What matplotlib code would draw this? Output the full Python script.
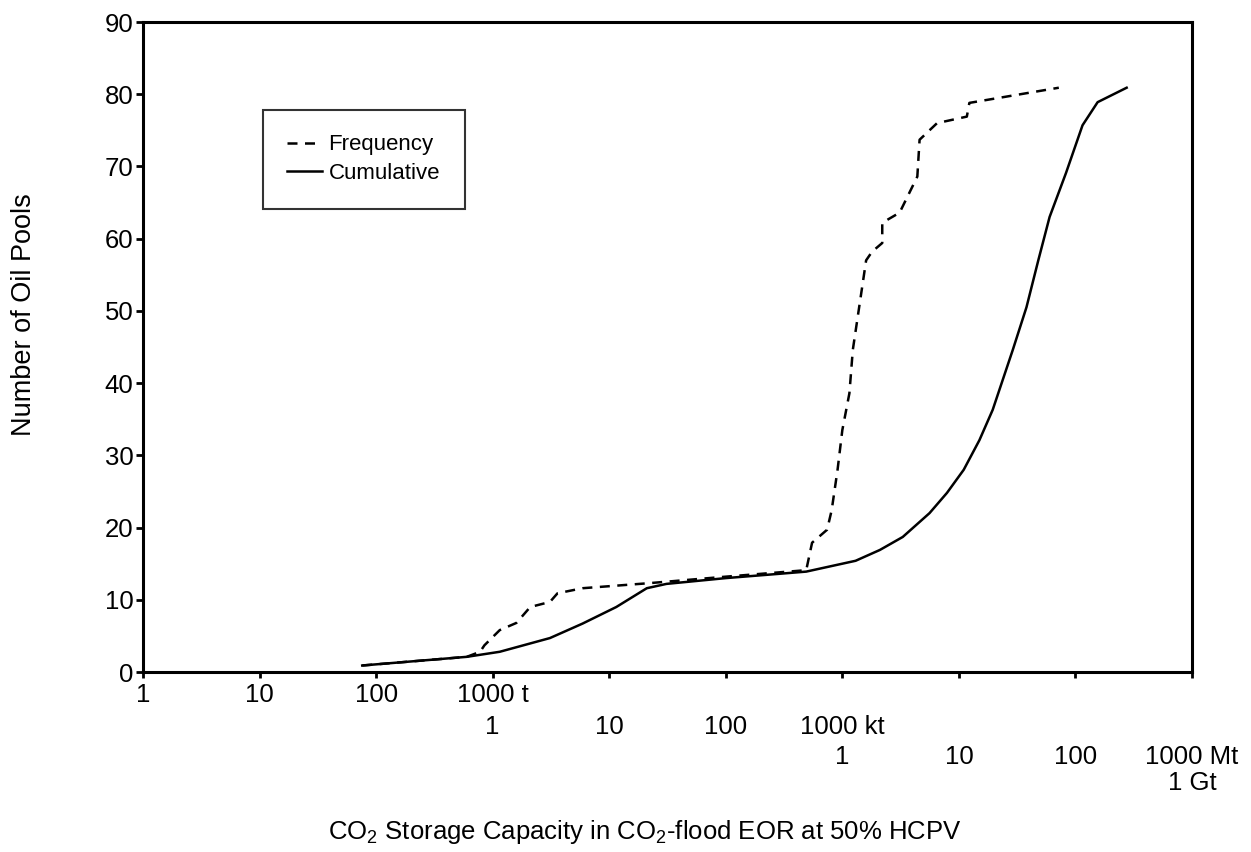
import matplotlib
matplotlib.use("Agg")
import matplotlib.pyplot as plt
import numpy as np

plt.rcParams['font.family'] = ['Liberation Sans', 'DejaVu Sans']
plt.rcParams['mathtext.fontset'] = 'custom'
plt.rcParams['mathtext.rm'] = 'Liberation Sans'

# storage capacity (tonnes CO2) vs number of oil pools
freq_capacity = [76, 600, 780, 850, 1150, 1600, 2100, 3100, 3600, 5900, 22000, 1e5,
                 4.9e5, 5.5e5, 7.4e5, 8.1e5, 9.1e5, 1.0e6, 1.15e6, 1.23e6, 1.6e6,
                 1.8e6, 2.2e6, 2.2e6, 3.1e6, 4.4e6, 4.6e6, 6.5e6, 1.17e7, 1.23e7, 7.2e7]
freq_pools = [0.9, 2.1, 2.8, 3.7, 5.8, 6.8, 9.0, 9.7, 10.9, 11.6, 12.3, 13.2,
              14.1, 17.9, 19.7, 22.4, 28.0, 33.5, 38.6, 44.6, 57.0,
              58.2, 59.4, 62.2, 63.6, 68.6, 73.7, 76.0, 76.9, 78.8, 80.9]

cum_capacity = [76, 600, 1150, 3100, 5900, 11500, 21000, 31000, 1e5, 2.9e5, 4.9e5,
                1.3e6, 2.1e6, 3.3e6, 5.6e6, 7.9e6, 1.1e7, 1.5e7, 1.95e7, 2.9e7,
                3.8e7, 4.8e7, 6.0e7, 8.3e7, 1.15e8, 1.55e8, 2.75e8]
cum_pools = [0.9, 2.1, 2.8, 4.7, 6.7, 9.0, 11.6, 12.2, 13.0, 13.6, 13.9,
             15.4, 16.9, 18.7, 22.0, 24.8, 28.0, 32.1, 36.3, 44.6,
             50.5, 57.0, 63.0, 69.1, 75.7, 78.9, 80.9]

row_t = ['1', '10', '100', '1000 t']
row_kt = ['1', '10', '100', '1000 kt']
row_mt = ['1', '10', '100', '1000 Mt']
yticks = list(range(0, 91, 10))

fig = plt.figure(figsize=(12.51, 8.52), dpi=100)
ax = fig.add_axes([143 / 1251, 1 - 672 / 852, 1049 / 1251, 650 / 852])

ax.plot(freq_capacity, freq_pools, color='black', lw=1.8, ls=(0, (4, 3)), label='Frequency')
ax.plot(cum_capacity, cum_pools, color='black', lw=1.8, label='Cumulative')

ax.set_xscale('log')
ax.set_xlim(1, 1e9)
ax.set_ylim(0, 90)
ax.set_yticks(yticks)
ax.set_xticks([10.0 ** i for i in range(10)])
ax.xaxis.set_minor_locator(matplotlib.ticker.NullLocator())
ax.set_xticklabels([])
ax.tick_params(axis='y', labelsize=18.5, length=5, width=2, pad=2)
ax.tick_params(axis='x', length=4, width=2)
for sp in ax.spines.values():
    sp.set_linewidth(2.2)

# three rows of unit labels under the axis
trans = ax.get_xaxis_transform()
rows = [(row_t, 0, -0.036), (row_kt, 3, -0.085), (row_mt, 6, -0.131)]
for labels, start, ypos in rows:
    for i, lab in enumerate(labels):
        ax.text(10.0 ** (start + i), ypos, lab, transform=trans, ha='center', va='center',
                fontsize=18.5, clip_on=False)
ax.text(1e9, -0.170, '1 Gt', transform=trans, ha='center', va='center', fontsize=18.5,
        clip_on=False)

fig.text(645 / 1251, 1 - 832 / 852, r'CO$_\mathregular{2}$ Storage Capacity in CO$_\mathregular{2}$-flood EOR at 50% HCPV',
         ha='center', va='center', fontsize=18.5)
fig.text(24 / 1251, 1 - 315 / 852, 'Number of Oil Pools', rotation=90,
         ha='center', va='center', fontsize=19.5)

leg = ax.legend(loc='upper left', bbox_to_anchor=((263 - 143) / 1049, (672 - 110) / 650),
                fontsize=16, frameon=True, fancybox=False, handlelength=1.55,
                handletextpad=0.3, labelspacing=0.35, borderpad=1.1, borderaxespad=0)
leg.get_frame().set_edgecolor('black')
leg.get_frame().set_linewidth(1.5)

fig.savefig('out.png', dpi=100)
